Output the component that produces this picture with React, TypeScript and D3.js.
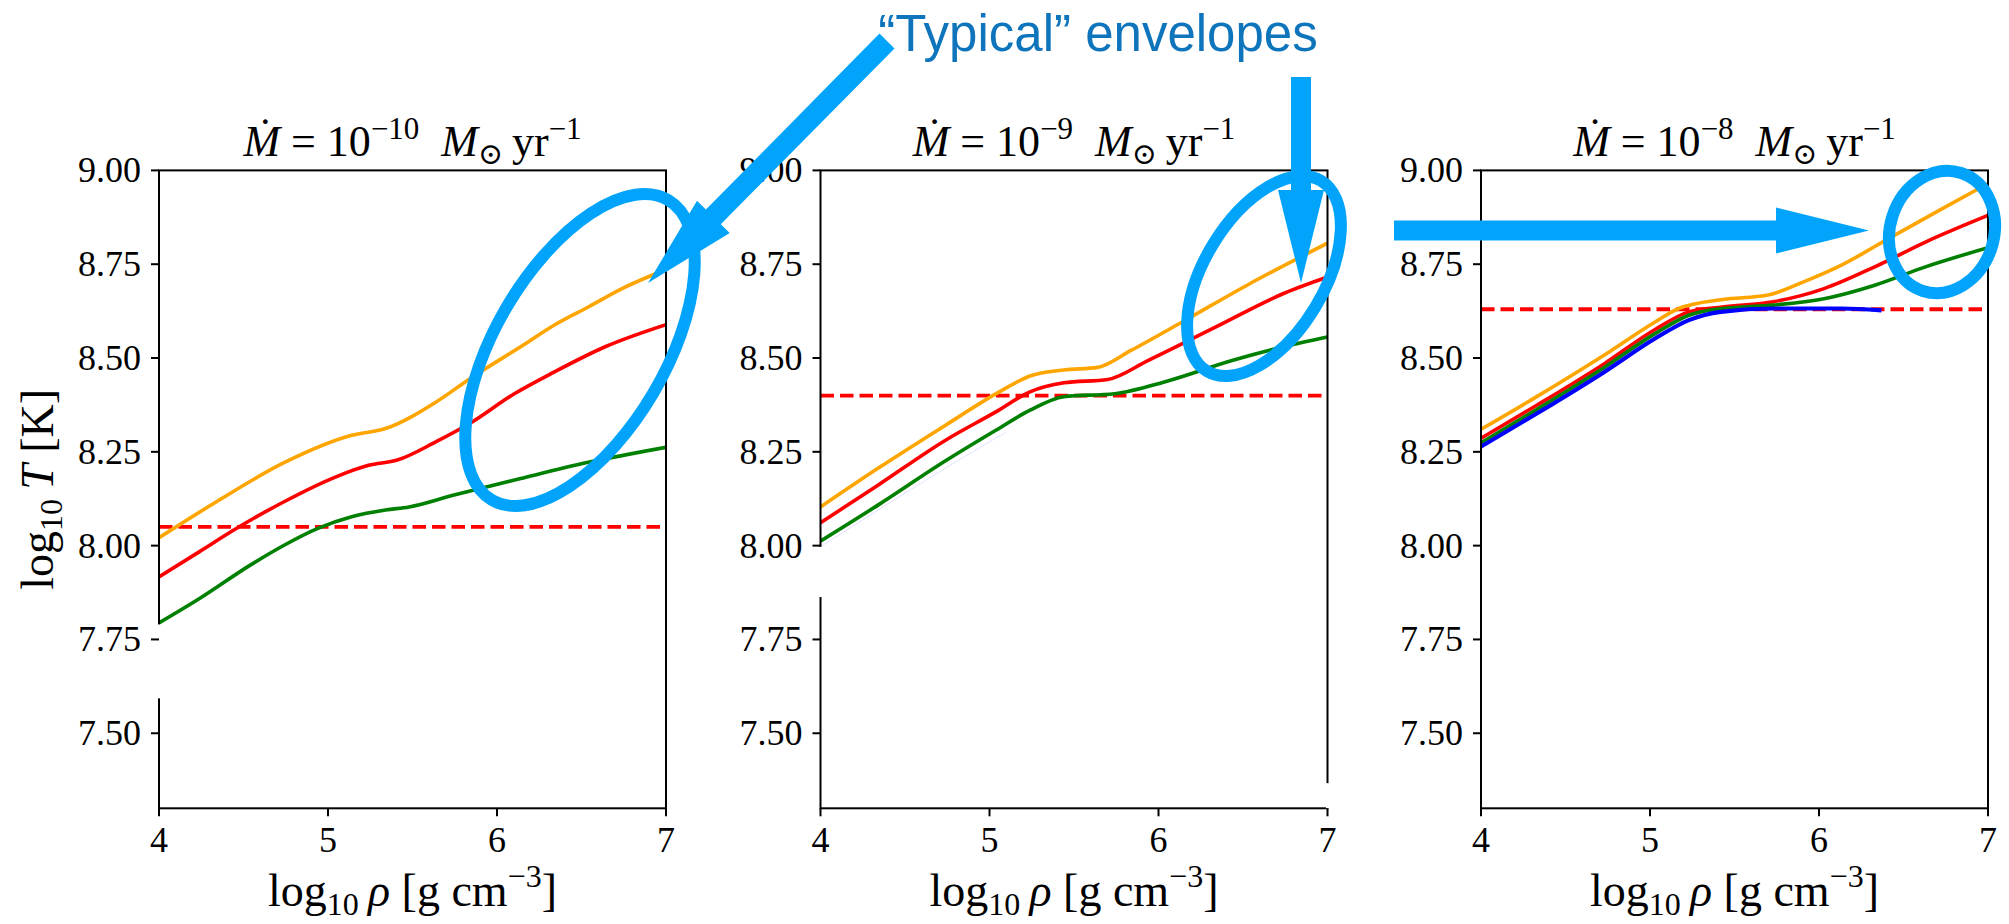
import React from "react";
import * as d3 from "d3";

// ---- data ----------------------------------------------------------------
const X_TICKS = [4, 5, 6, 7];
const Y_TICKS = [7.5, 7.75, 8.0, 8.25, 8.5, 8.75, 9.0];
const X_DOMAIN: [number, number] = [4, 7];
const Y_DOMAIN: [number, number] = [7.3, 9.0];

const MDOT_EXPONENTS = ["\u221210", "\u22129", "\u22128"];
const CRITICAL_LOGT = [8.05, 8.4, 8.63];

type Pt = [number, number];

// Mdot = 1e-10
const p1Orange: Pt[] = [[4.0, 8.021], [4.34, 8.117], [4.74, 8.221], [5.14, 8.294], [5.34, 8.312], [5.64, 8.383], [5.84, 8.445], [6.14, 8.53], [6.34, 8.588], [6.54, 8.636], [6.74, 8.685], [7.0, 8.736]];
const p1Red: Pt[] = [[4.0, 7.917], [4.24, 7.984], [4.44, 8.041], [4.74, 8.117], [5.04, 8.182], [5.24, 8.214], [5.41, 8.228], [5.64, 8.277], [5.84, 8.326], [6.1, 8.404], [6.34, 8.463], [6.64, 8.53], [7.0, 8.589]];
const p1Green: Pt[] = [[4.0, 7.794], [4.24, 7.859], [4.54, 7.948], [4.74, 8.001], [4.94, 8.046], [5.14, 8.077], [5.34, 8.095], [5.48, 8.103], [5.74, 8.134], [6.14, 8.179], [6.54, 8.222], [7.0, 8.262]];

// Mdot = 1e-9
const p2Orange: Pt[] = [[4.0, 8.103], [4.34, 8.206], [4.74, 8.321], [5.04, 8.405], [5.24, 8.452], [5.44, 8.468], [5.64, 8.475], [5.84, 8.521], [6.14, 8.596], [6.54, 8.698], [7.0, 8.806]];
const p2Red: Pt[] = [[4.0, 8.061], [4.34, 8.161], [4.74, 8.281], [5.04, 8.357], [5.24, 8.41], [5.44, 8.434], [5.7, 8.443], [5.94, 8.494], [6.34, 8.583], [6.74, 8.672], [7.0, 8.716]];
const p2Green: Pt[] = [[4.0, 8.012], [4.34, 8.108], [4.74, 8.226], [5.04, 8.308], [5.24, 8.361], [5.44, 8.397], [5.74, 8.405], [6.04, 8.437], [6.44, 8.494], [6.74, 8.53], [7.0, 8.556]];
const p2Faint: Pt[] = [[4.0, 7.997], [4.8, 8.223], [5.1, 8.303]];

// Mdot = 1e-8
const p3Orange: Pt[] = [[4.0, 8.31], [4.33, 8.397], [4.73, 8.508], [5.03, 8.596], [5.17, 8.632], [5.43, 8.656], [5.69, 8.667], [5.93, 8.707], [6.13, 8.747], [6.43, 8.823], [6.73, 8.898], [7.0, 8.965]];
const p3Red: Pt[] = [[4.0, 8.286], [4.33, 8.374], [4.73, 8.485], [5.03, 8.576], [5.23, 8.623], [5.43, 8.636], [5.73, 8.65], [6.03, 8.685], [6.33, 8.743], [6.63, 8.809], [7.0, 8.88]];
const p3Green: Pt[] = [[4.0, 8.274], [4.33, 8.363], [4.73, 8.475], [5.03, 8.565], [5.23, 8.614], [5.43, 8.632], [5.73, 8.641], [6.03, 8.658], [6.33, 8.694], [6.63, 8.743], [7.0, 8.794]];
const p3Blue: Pt[] = [[4.0, 8.264], [4.33, 8.352], [4.73, 8.463], [5.03, 8.552], [5.23, 8.601], [5.42, 8.623], [5.73, 8.632], [6.13, 8.632], [6.37, 8.627]];

// short white strokes that cut through the frame (start/end y in data units)
const SPINE_CUTS: { panel: number; side: "left" | "right"; y0: number; y1: number }[] = [
  { panel: 0, side: "left", y0: 7.593, y1: 7.79 },
  { panel: 1, side: "left", y0: 7.863, y1: 7.997 },
  { panel: 1, side: "right", y0: 7.3, y1: 7.367 },
];

// ---- layout --------------------------------------------------------------
const W = 2009;
const H = 924;
const PANEL_LEFT = [159, 820.5, 1481];
const PANEL_W = 507;
const TOP = 170.4;
const BOTTOM = 808.3;

const SERIF = "'Liberation Serif', 'DejaVu Serif', serif";
const SANS = "'Liberation Sans', Arial, Helvetica, sans-serif";
const CALLOUT = "#02a4fb";
const CALLOUT_TEXT = "#0e75bc";
const LW = 3.6;

const panels = [
  { series: [{ pts: p1Orange, c: "orange" }, { pts: p1Red, c: "red" }, { pts: p1Green, c: "green" }] },
  { series: [{ pts: p2Faint, c: "rgba(0,0,255,0.12)", w: 1 }, { pts: p2Orange, c: "orange" }, { pts: p2Red, c: "red" }, { pts: p2Green, c: "green" }] },
  { series: [{ pts: p3Orange, c: "orange" }, { pts: p3Red, c: "red" }, { pts: p3Green, c: "green" }, { pts: p3Blue, c: "blue", w: 4.2 }] },
];

// block arrow polygon from tail to tip
function blockArrow(tail: Pt, tip: Pt, shaft: number, headW: number, headL: number) {
  const dx = tip[0] - tail[0];
  const dy = tip[1] - tail[1];
  const len = Math.hypot(dx, dy);
  const ux = dx / len, uy = dy / len;
  const nx = -uy, ny = ux;
  const bx = tip[0] - ux * headL, by = tip[1] - uy * headL;
  const p = (x: number, y: number) => `${x.toFixed(1)},${y.toFixed(1)}`;
  return [
    p(tail[0] + nx * shaft / 2, tail[1] + ny * shaft / 2),
    p(bx + nx * shaft / 2, by + ny * shaft / 2),
    p(bx + nx * headW / 2, by + ny * headW / 2),
    p(tip[0], tip[1]),
    p(bx - nx * headW / 2, by - ny * headW / 2),
    p(bx - nx * shaft / 2, by - ny * shaft / 2),
    p(tail[0] - nx * shaft / 2, tail[1] - ny * shaft / 2),
  ].join(" ");
}

const ARROWS: { tail: Pt; tip: Pt; shaft: number }[] = [
  { tail: [887, 41], tip: [648, 283], shaft: 21 },
  { tail: [1301, 77], tip: [1301, 283], shaft: 20 },
  { tail: [1394, 230.5], tip: [1869, 230.5], shaft: 20 },
];
const RINGS = [
  { cx: 580, cy: 350, rx: 174, ry: 85, rot: -59.5 },
  { cx: 1264, cy: 276, rx: 111, ry: 60, rot: -59 },
  { cx: 1942, cy: 232, rx: 52, ry: 62, rot: 18 },
];

function Panel({ idx }: { idx: number }) {
  const left = PANEL_LEFT[idx];
  const x = d3.scaleLinear().domain(X_DOMAIN).range([left, left + PANEL_W]);
  const y = d3.scaleLinear().domain(Y_DOMAIN).range([BOTTOM, TOP]);
  const line = d3
    .line<Pt>()
    .x((d) => x(d[0]))
    .y((d) => y(d[1]))
    .curve(d3.curveMonotoneX);
  const cx = left + PANEL_W / 2;
  const clipId = `clip-${idx}`;
  return (
    <g>
      <defs>
        <clipPath id={clipId}>
          <rect x={left} y={TOP} width={PANEL_W} height={BOTTOM - TOP} />
        </clipPath>
      </defs>
      <g clipPath={`url(#${clipId})`}>
        <line
          x1={x(X_DOMAIN[0])}
          x2={x(X_DOMAIN[1])}
          y1={y(CRITICAL_LOGT[idx])}
          y2={y(CRITICAL_LOGT[idx])}
          stroke="red"
          strokeWidth={3.8}
          strokeDasharray="13.5 6"
        />
        {panels[idx].series.map((s: any, i: number) => (
          <path key={i} d={line(s.pts) || ""} fill="none" stroke={s.c} strokeWidth={s.w ?? LW} strokeLinejoin="round" />
        ))}
      </g>
      <rect x={left} y={TOP} width={PANEL_W} height={BOTTOM - TOP} fill="none" stroke="black" strokeWidth={2} />
      {SPINE_CUTS.filter((c) => c.panel === idx).map((c, i) => {
        const sx = c.side === "left" ? x(X_DOMAIN[0]) : x(X_DOMAIN[1]);
        return <line key={i} x1={sx} x2={sx} y1={y(c.y0)} y2={y(c.y1)} stroke="white" strokeWidth={3} />;
      })}
      {Y_TICKS.map((t) => (
        <g key={t}>
          <line x1={left - 8} x2={left} y1={y(t)} y2={y(t)} stroke="black" strokeWidth={2} />
          <text x={left - 18} y={y(t) + 12} textAnchor="end" fontSize={36} fontFamily={SERIF}>
            {t.toFixed(2)}
          </text>
        </g>
      ))}
      {X_TICKS.map((t) => (
        <g key={t}>
          <line x1={x(t)} x2={x(t)} y1={BOTTOM} y2={BOTTOM + 8} stroke="black" strokeWidth={2} />
          <text x={x(t)} y={852} textAnchor="middle" fontSize={36} fontFamily={SERIF}>
            {t}
          </text>
        </g>
      ))}
      <text x={cx} y={156} textAnchor="middle" fontSize={44} fontFamily={SERIF}>
        <tspan fontStyle="italic">{"\u1E40"}</tspan>
        <tspan>{" = 10"}</tspan>
        <tspan dy={-17} fontSize={31}>{MDOT_EXPONENTS[idx]}</tspan>
        <tspan dy={17}>{"\u00a0\u00a0"}</tspan>
        <tspan fontStyle="italic">M</tspan>
        <tspan dy={8} fontSize={30}>{"\u2299"}</tspan>
        <tspan dy={-8}>{"\u2009yr"}</tspan>
        <tspan dy={-17} fontSize={31}>{"\u22121"}</tspan>
      </text>
      <text x={cx} y={906} textAnchor="middle" fontSize={46} fontFamily={SERIF}>
        <tspan>log</tspan>
        <tspan dy={9} fontSize={32}>10</tspan>
        <tspan dy={-9} fontStyle="italic">{"\u2009\u03C1"}</tspan>
        <tspan>{" [g cm"}</tspan>
        <tspan dy={-19} fontSize={32}>{"\u22123"}</tspan>
        <tspan dy={19}>]</tspan>
      </text>
    </g>
  );
}

export default function App() {
  return (
    <svg
      width={W}
      height={H}
      viewBox={`0 0 ${W} ${H}`}
      style={{ position: "absolute", left: 0, top: 0, background: "white" }}
    >
      <rect x={0} y={0} width={W} height={H} fill="white" />
      {[0, 1, 2].map((i) => (
        <Panel key={i} idx={i} />
      ))}
      <text transform={`translate(53,${(TOP + BOTTOM) / 2}) rotate(-90)`} textAnchor="middle" fontSize={46} fontFamily={SERIF}>
        <tspan>log</tspan>
        <tspan dy={9} fontSize={32}>10</tspan>
        <tspan dy={-9} fontStyle="italic">{"\u2009T"}</tspan>
        <tspan>{" [K]"}</tspan>
      </text>
      {RINGS.map((r, i) => (
        <ellipse
          key={i}
          cx={r.cx}
          cy={r.cy}
          rx={r.rx}
          ry={r.ry}
          transform={`rotate(${r.rot},${r.cx},${r.cy})`}
          fill="none"
          stroke={CALLOUT}
          strokeWidth={12}
        />
      ))}
      {ARROWS.map((a, i) => (
        <polygon key={i} points={blockArrow(a.tail, a.tip, a.shaft, 46, 93)} fill={CALLOUT} />
      ))}
      <text x={1098} y={51} textAnchor="middle" fontSize={51} fontFamily={SANS} fill={CALLOUT_TEXT}>
        {"\u201CTypical\u201D envelopes"}
      </text>
    </svg>
  );
}
